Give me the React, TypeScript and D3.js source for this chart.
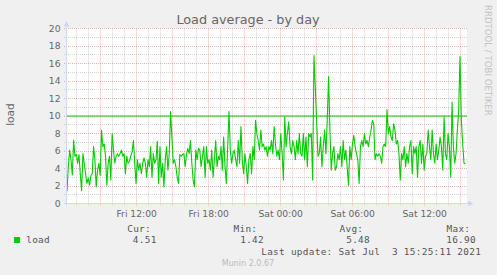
import React from 'react';
import * as d3 from 'd3';

const W = 497;
const H = 275;

// load average samples, evenly spaced in time
const loadValues: number[] = [
  1.42, 4.2, 6.1, 5.0, 3.25, 7.25, 5.4, 5.6, 4.6, 5.6, 3.4, 1.5, 5.7, 4.6, 3.4, 2.3, 2.9, 2.1, 3.2, 3.4,
  6.5, 5.0, 1.9, 3.8, 4.6, 3.2, 8.4, 6.5, 6.8, 5.4, 2.1, 4.6, 5.4, 2.7, 8.0, 6.1, 4.6, 5.4, 5.7, 5.4,
  5.7, 6.1, 5.4, 5.7, 3.4, 5.4, 4.6, 4.8, 5.4, 5.9, 7.2, 4.6, 2.3, 5.0, 3.8, 4.6,
  3.4, 4.6, 5.2, 4.6, 3.0, 5.0, 4.2,
  6.5, 3.0, 5.7, 4.6, 5.0, 7.1, 2.3, 6.5, 3.0, 4.6, 1.9, 5.0, 6.5, 3.8, 5.7, 10.5, 7.6, 4.6, 5.0, 4.2,
  3.0, 2.3, 5.6, 5.4, 5.6, 5.7, 4.2, 5.6, 6.3, 5.7, 7.2, 4.6, 2.7, 1.9, 6.1, 5.0, 6.3, 6.1, 4.2, 5.4,
  6.5, 3.0, 6.5, 4.6, 5.0, 3.8, 6.1, 3.0, 5.0, 7.2, 4.2, 5.4, 5.0, 6.5, 3.8, 7.6, 4.2, 2.3, 6.5, 10.5,
  6.1, 4.6, 5.7, 6.1, 5.0, 4.2, 7.2, 4.6, 8.8, 5.0, 3.4, 5.7, 4.2, 2.3, 5.0, 5.7, 3.4, 6.5, 5.0, 9.5,
  8.0, 7.2, 6.1, 8.4, 6.5, 6.8, 6.1, 6.5, 5.4, 6.5, 6.1, 7.2, 5.7, 8.8, 6.8, 5.4,
  6.1, 5.0, 8.0, 5.7, 2.7, 9.9, 6.5, 8.0, 9.35, 6.5, 5.7, 7.2, 6.5, 5.0, 7.2, 5.7, 8.0, 5.7, 5.4, 8.0,
  5.0, 7.6, 4.2, 8.0, 7.6, 8.0,
  2.7, 16.9, 13.35, 9.5, 5.4, 5.7, 7.6, 4.2, 6.5, 8.4, 5.7, 9.5, 14.5, 8.4, 3.8, 5.7, 6.5, 3.8, 4.2, 5.7,
  5.0, 6.5, 4.2, 7.2, 5.0, 6.1, 4.2, 2.1, 6.5, 5.0, 6.8, 7.8, 6.5, 5.7, 5.0, 2.3, 6.5, 7.2, 6.5, 8.0,
  6.8, 7.2, 6.5, 7.6, 8.4, 9.5, 9.1, 5.0, 5.7, 5.4, 5.7, 5.4, 4.6, 6.5, 6.8, 6.5, 10.7, 8.0, 8.8, 7.6,
  7.2, 9.1, 8.4, 6.8, 7.2, 5.7, 2.7, 5.7, 5.0, 6.5, 4.2, 5.7, 4.6, 6.5, 7.2, 3.4, 6.5, 5.7, 6.5, 3.0,
  6.5, 7.2, 4.6, 6.8, 3.8, 5.4, 5.7, 8.4, 6.5, 5.0, 8.4, 5.7, 4.6, 6.8, 5.0, 6.1, 7.6, 6.5, 3.8, 9.9,
  5.7, 5.0, 8.0, 6.5, 3.0, 11.6, 6.5, 4.6, 5.7, 8.4, 10.7, 16.8, 9.5, 6.8, 4.6, 4.51,
];

const yTickValues = [0, 2, 4, 6, 8, 10, 12, 14, 16, 18, 20];
const yMinorValues = [1, 3, 5, 7, 9, 11, 13, 15, 17, 19];
const warnLevel = 10;

const statLabels = ['Cur:', 'Min:', 'Avg:', 'Max:'];
const statValues = ['4.51', '1.42', '5.48', '16.90'];
const seriesName = 'load';
const lastUpdate = 'Last update: Sat Jul  3 15:25:11 2021';
const title = 'Load average - by day';

const startTime = new Date(Date.UTC(2021, 6, 2, 6, 11, 40));
const endTime = new Date(startTime.getTime() + 120000 * 1000);
const dataStart = startTime.getTime();
const dataEnd = endTime.getTime() - 500 * 1000;

const PL = 67, PR = 467, PT = 28.5, PB = 203.5;

const snap = (v: number) => Math.floor(v) + 0.5;

export default function App() {
  const x = d3.scaleUtc().domain([startTime, endTime]).range([PL, PR]);
  const y = d3.scaleLinear().domain([0, 20]).range([PB, PT]);
  const n = loadValues.length;
  const pts: [number, number][] = loadValues.map((v, i) => [
    dataStart + ((dataEnd - dataStart) * i) / (n - 1),
    v,
  ]);
  const line = d3
    .line<[number, number]>()
    .x((d) => x(new Date(d[0])))
    .y((d) => y(d[1]));

  const hours = d3.utcHour.range(startTime, endTime);
  const minorHours = hours.filter((h) => h.getUTCHours() % 3 !== 0);
  const majorHours = hours.filter((h) => h.getUTCHours() % 3 === 0);
  const labelHours = hours.filter((h) => h.getUTCHours() % 6 === 0);
  const fmt = d3.utcFormat('%a %H:%M');

  const minorGrid = 'rgba(140,140,140,0.38)';
  const majorGrid = 'rgba(224,80,80,0.45)';
  const axisCol = '#CFD6F8';
  const fontCol = '#666666';
  const legendCol = '#555555';

  const statX = [127.2, 233.5, 339.5, 446.5];
  const valX = [132.8, 240.2, 346.2, 446.2];

  return (
    <svg
      width={W}
      height={H}
      style={{ position: 'absolute', left: 0, top: 0, display: 'block' }}
      xmlns="http://www.w3.org/2000/svg"
    >
      <rect x={0} y={0} width={W} height={H} fill="#F0F0F0" />
      <rect x={PL} y={PT - 0.5} width={PR - PL} height={PB - PT + 0.5} fill="#FFFFFF" />

      {/* horizontal grid */}
      {yMinorValues.map((v) => (
        <line key={'hm' + v} x1={64} x2={PR} y1={snap(y(v))} y2={snap(y(v))}
          stroke={minorGrid} strokeWidth={1} strokeDasharray="1,1" />
      ))}
      {yTickValues.filter((v) => v > 0).map((v) => (
        <line key={'hM' + v} x1={64} x2={PR} y1={snap(y(v))} y2={snap(y(v))}
          stroke={majorGrid} strokeWidth={1} strokeDasharray="1,1" />
      ))}
      {/* vertical grid */}
      {minorHours.map((h) => (
        <line key={'vm' + h.getTime()} x1={snap(x(h))} x2={snap(x(h))} y1={PT} y2={PB + 2.5}
          stroke={minorGrid} strokeWidth={1} strokeDasharray="1,1" />
      ))}
      {majorHours.map((h) => (
        <line key={'vM' + h.getTime()} x1={snap(x(h))} x2={snap(x(h))} y1={PT} y2={PB + 2.5}
          stroke={majorGrid} strokeWidth={1} strokeDasharray="1,1" />
      ))}

      {/* data */}
      <path d={line(pts) || ''} fill="none" stroke="#00CC00" strokeWidth={1.1} strokeLinejoin="round" />
      <line x1={PL} x2={PR} y1={y(warnLevel)} y2={y(warnLevel)} stroke="#00CC00" strokeWidth={1.2} />

      {/* axes */}
      <line x1={64} x2={469} y1={PB} y2={PB} stroke={axisCol} strokeWidth={1} />
      <line x1={66.5} x2={66.5} y1={PB + 2} y2={24} stroke={axisCol} strokeWidth={1} />
      <path d={`M468,${PB - 3} L473.5,${PB} L468,${PB + 3} Z`} fill={axisCol} />
      <path d={`M63.5,26.5 L66.5,21 L69.5,26.5 Z`} fill={axisCol} />

      {/* y tick labels */}
      {yTickValues.map((v) => (
        <text key={'yt' + v} x={60.5} y={y(v) + 3.3} textAnchor="end"
          fontFamily="'DejaVu Sans'" fontSize={9.2} fill={fontCol}>
          {v}
        </text>
      ))}
      {/* x tick labels */}
      {labelHours.map((h) => (
        <text key={'xt' + h.getTime()} x={x(h)} y={216.7} textAnchor="middle"
          fontFamily="'DejaVu Sans'" fontSize={9.2} fill={fontCol}>
          {fmt(h)}
        </text>
      ))}

      {/* title */}
      <text x={248} y={24.3} textAnchor="middle" fontFamily="'DejaVu Sans'" fontSize={12.8} fill={fontCol}>
        {title}
      </text>
      {/* unit */}
      <text transform="translate(13.5,114.5) rotate(-90)" textAnchor="middle"
        fontFamily="'DejaVu Sans'" fontSize={10.6} fill={fontCol}>
        {seriesName}
      </text>
      {/* watermark */}
      <text transform="translate(485,5) rotate(90)" textAnchor="start"
        fontFamily="'DejaVu Sans'" fontSize={8.6} fill="#C4C4C4">
        RRDTOOL / TOBI OETIKER
      </text>

      {/* legend */}
      {statLabels.map((s, i) => (
        <text key={'sl' + s} x={statX[i]} y={231.6} fontFamily="'DejaVu Sans Mono'" fontSize={9.4}
          letterSpacing={0.3} fill={legendCol}>
          {s}
        </text>
      ))}
      <rect x={14} y={237} width={6} height={6} fill="#00CC00" />
      <text x={26.2} y={243.3} fontFamily="'DejaVu Sans Mono'" fontSize={9.4} letterSpacing={0.3} fill={legendCol}>
        {seriesName}
      </text>
      {statValues.map((s, i) => (
        <text key={'sv' + i} x={valX[i]} y={243.3} fontFamily="'DejaVu Sans Mono'" fontSize={9.4}
          letterSpacing={0.3} fill={legendCol}>
          {s}
        </text>
      ))}
      <text x={261.2} y={255} fontFamily="'DejaVu Sans Mono'" fontSize={9.4} letterSpacing={0.3}
        fill={legendCol} style={{ whiteSpace: 'pre' }}>
        {lastUpdate}
      </text>
      <text x={248} y={266.3} textAnchor="middle" fontFamily="'DejaVu Sans'" fontSize={8} fill="#BBBBBB">
        Munin 2.0.67
      </text>
    </svg>
  );
}
